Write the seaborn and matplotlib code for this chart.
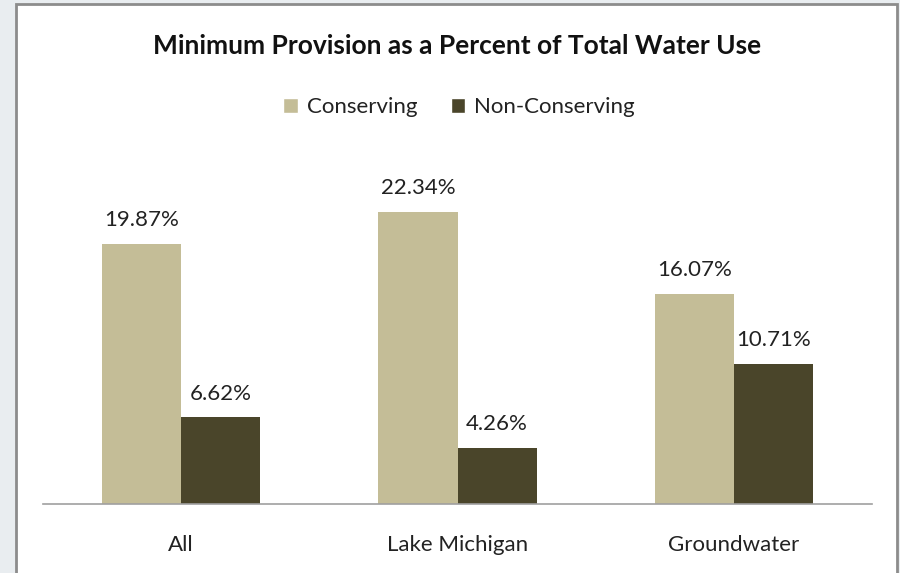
import matplotlib
matplotlib.use("Agg")
import matplotlib.pyplot as plt
import pandas as pd
import seaborn as sns
from matplotlib.patches import Rectangle

categories = ["All", "Lake Michigan", "Groundwater"]
series = ["Conserving", "Non-Conserving"]
conserving = [19.87, 22.34, 16.07]
non_conserving = [6.62, 4.26, 10.71]
colors = ["#C4BD97", "#4A452A"]

df = pd.DataFrame({
    "category": categories * 2,
    "series": [series[0]] * 3 + [series[1]] * 3,
    "value": conserving + non_conserving,
})

sns.set_theme(style="white")
plt.rcParams["font.family"] = ["Lato", "DejaVu Sans"]

fig = plt.figure(figsize=(9, 5.73), dpi=100)
fig.patch.set_facecolor("#E9EDF0")

# chart area frame (behind the axes)
frame = Rectangle((16 / 900, -0.05), 881 / 900, 1.05 - 4 / 573,
                  transform=fig.transFigure, facecolor="white",
                  edgecolor="#8C8C8C", linewidth=2, zorder=-5)
fig.patches.append(frame)

ax = fig.add_axes([43 / 900, 69 / 573, 829 / 900, 327 / 573])
ax.set_facecolor("none")
sns.barplot(data=df, x="category", y="value", hue="series", order=categories,
            hue_order=series, palette=colors, width=0.572, gap=0,
            saturation=1, linewidth=0, ax=ax, legend=False)

ax.set_xlim(-0.5, 2.5)
ax.set_ylim(0, 25)
ax.set_xlabel("")
ax.set_ylabel("")
ax.set_yticks([])
for side in ["top", "right", "left"]:
    ax.spines[side].set_visible(False)
ax.spines["bottom"].set_color("#A0A0A0")
ax.spines["bottom"].set_linewidth(1.2)
ax.tick_params(axis="x", length=0, pad=22, labelsize=16, colors="#222222")

for cont, vals in zip(ax.containers, [conserving, non_conserving]):
    ax.bar_label(cont, labels=[f"{v:.2f}%" for v in vals], padding=10,
                 fontsize=16, color="#222222")

fig.text(0.508, 0.919, "Minimum Provision as a Percent of Total Water Use",
         ha="center", va="center", fontsize=19, fontweight="bold", color="#111111")

handles = [Rectangle((0, 0), 1, 1, facecolor=c) for c in colors]
fig.legend(handles, series, loc="center", bbox_to_anchor=(0.51, 0.813),
           ncol=2, frameon=False, fontsize=16, handlelength=0.65, handleheight=0.65,
           handletextpad=0.4, columnspacing=1.5, labelcolor="#222222")

fig.savefig("out.png", dpi=100, facecolor=fig.get_facecolor())
